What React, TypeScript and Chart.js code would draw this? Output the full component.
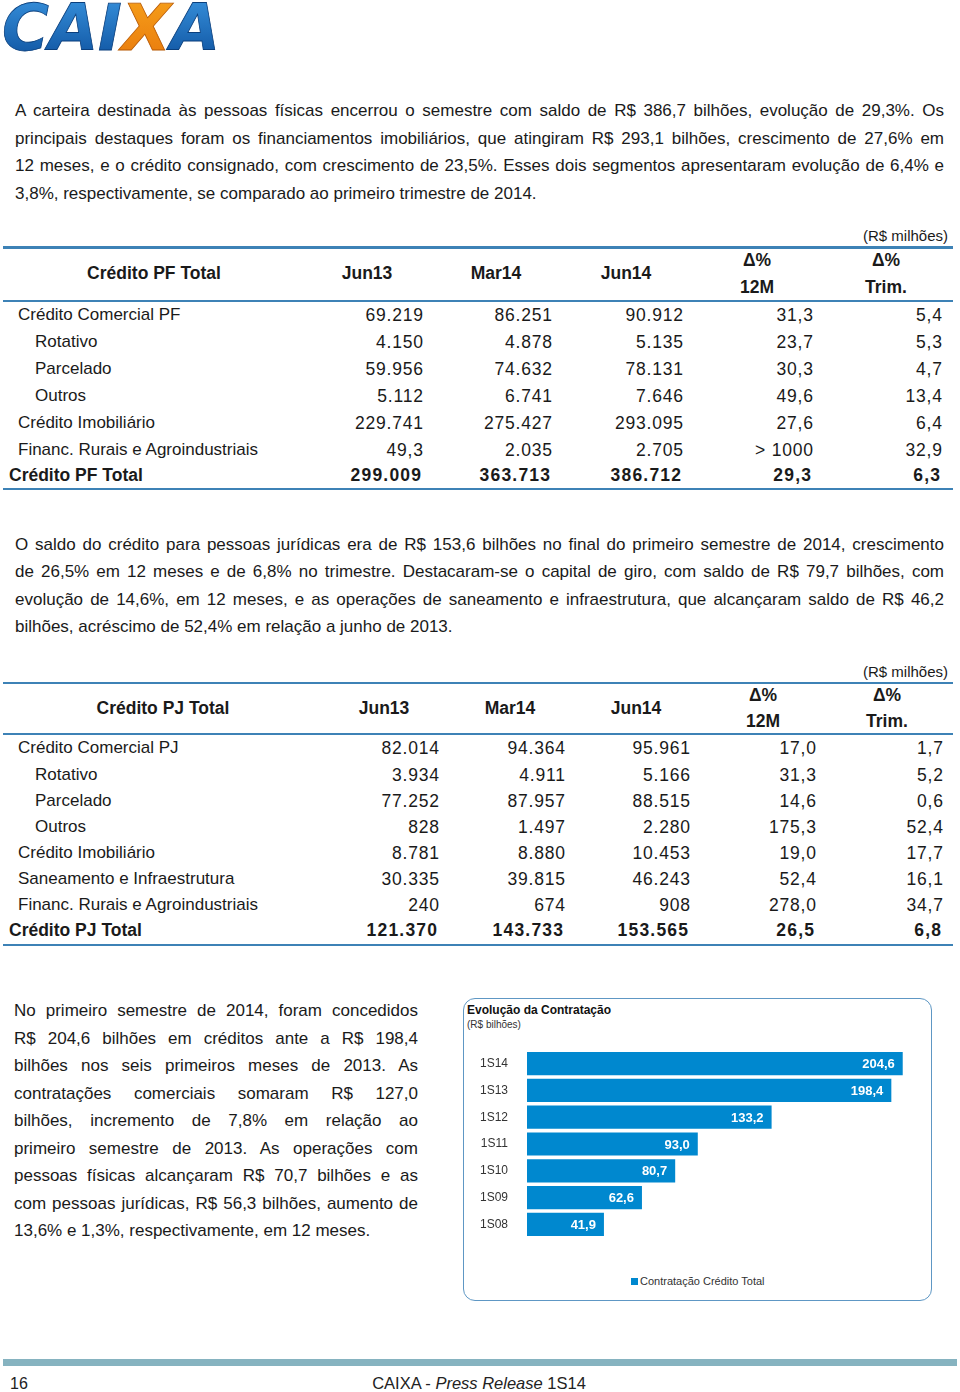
import React, { useEffect, useRef } from "react";
import { Chart, registerables } from "chart.js";

Chart.register(...registerables);

// ---------- chart data ----------
const periods = ["1S14", "1S13", "1S12", "1S11", "1S10", "1S09", "1S08"];
const contratacao = [204.6, 198.4, 133.2, 93.0, 80.7, 62.6, 41.9];
const seriesName = "Contratação Crédito Total";

// ---------- table data: PF ----------
const pfLabels = [
  "Crédito Comercial PF",
  "Rotativo",
  "Parcelado",
  "Outros",
  "Crédito Imobiliário",
  "Financ. Rurais e Agroindustriais",
  "Crédito PF Total",
];
const pfJun13 = ["69.219", "4.150", "59.956", "5.112", "229.741", "49,3", "299.009"];
const pfMar14 = ["86.251", "4.878", "74.632", "6.741", "275.427", "2.035", "363.713"];
const pfJun14 = ["90.912", "5.135", "78.131", "7.646", "293.095", "2.705", "386.712"];
const pf12M = ["31,3", "23,7", "30,3", "49,6", "27,6", "> 1000", "29,3"];
const pfTrim = ["5,4", "5,3", "4,7", "13,4", "6,4", "32,9", "6,3"];

// ---------- table data: PJ ----------
const pjLabels = [
  "Crédito Comercial PJ",
  "Rotativo",
  "Parcelado",
  "Outros",
  "Crédito Imobiliário",
  "Saneamento e Infraestrutura",
  "Financ. Rurais e Agroindustriais",
  "Crédito PJ Total",
];
const pjJun13 = ["82.014", "3.934", "77.252", "828", "8.781", "30.335", "240", "121.370"];
const pjMar14 = ["94.364", "4.911", "87.957", "1.497", "8.880", "39.815", "674", "143.733"];
const pjJun14 = ["95.961", "5.166", "88.515", "2.280", "10.453", "46.243", "908", "153.565"];
const pj12M = ["17,0", "31,3", "14,6", "175,3", "19,0", "52,4", "278,0", "26,5"];
const pjTrim = ["1,7", "5,2", "0,6", "52,4", "17,7", "16,1", "34,7", "6,8"];

// ---------- texts ----------
const para1 = [
  "A carteira destinada às pessoas físicas encerrou o semestre com saldo de R$ 386,7 bilhões, evolução de 29,3%. Os",
  "principais destaques foram os financiamentos imobiliários, que atingiram R$ 293,1 bilhões, crescimento de 27,6% em",
  "12 meses, e o crédito consignado, com crescimento de 23,5%. Esses dois segmentos apresentaram evolução de 6,4% e",
  "3,8%, respectivamente, se comparado ao primeiro trimestre de 2014.",
];
const para2 = [
  "O saldo do crédito para pessoas jurídicas era de R$ 153,6 bilhões no final do primeiro semestre de 2014, crescimento",
  "de 26,5% em 12 meses e de 6,8% no trimestre. Destacaram-se o capital de giro, com saldo de R$ 79,7 bilhões, com",
  "evolução de 14,6%, em 12 meses, e as operações de saneamento e infraestrutura, que alcançaram saldo de R$ 46,2",
  "bilhões, acréscimo de 52,4% em relação a junho de 2013.",
];
const para3 = [
  "No primeiro semestre de 2014, foram concedidos",
  "R$ 204,6 bilhões em créditos ante a R$ 198,4",
  "bilhões nos seis primeiros meses de 2013. As",
  "contratações comerciais somaram R$ 127,0",
  "bilhões, incremento de 7,8% em relação ao",
  "primeiro semestre de 2013. As operações com",
  "pessoas físicas alcançaram R$ 70,7 bilhões e as",
  "com pessoas jurídicas, R$ 56,3 bilhões, aumento de",
  "13,6% e 1,3%, respectivamente, em 12 meses.",
];

const FONT = '"Liberation Sans", Arial, sans-serif';
const TEXT = "#1a1a1a";
const LINE = "#3d82b6";
const BAR = "#0088cf";

type TP = {
  x: number;
  cy: number;
  size: number;
  bold?: boolean;
  align?: "left" | "right" | "center";
  color?: string;
  ls?: number;
  children: React.ReactNode;
};

function T({ x, cy, size, bold, align = "left", color = TEXT, ls = 0, children }: TP) {
  const lh = Math.round(size * 1.3);
  const base: React.CSSProperties = {
    position: "absolute",
    top: cy - lh / 2,
    lineHeight: lh + "px",
    fontSize: size,
    fontWeight: bold ? 700 : 400,
    color,
    whiteSpace: "nowrap",
    letterSpacing: ls ? ls + "px" : undefined,
    fontFamily: FONT,
  };
  if (align === "left") return <div style={{ ...base, left: x }}>{children}</div>;
  if (align === "right")
    return <div style={{ ...base, left: x - 400 + ls, width: 400, textAlign: "right" }}>{children}</div>;
  return <div style={{ ...base, left: x - 200, width: 400, textAlign: "center" }}>{children}</div>;
}

function Para({ lines, x, w, y0, step, size }: { lines: string[]; x: number; w: number; y0: number; step: number; size: number }) {
  const lh = Math.round(size * 1.3);
  return (
    <>
      {lines.map((l, i) => {
        const last = i === lines.length - 1;
        return (
          <div
            key={i}
            style={{
              position: "absolute",
              left: x,
              width: w,
              top: y0 + i * step - lh / 2,
              lineHeight: lh + "px",
              fontSize: size,
              fontFamily: FONT,
              color: TEXT,
              textAlign: last ? "left" : "justify",
              textAlignLast: last ? "left" : "justify",
            } as React.CSSProperties}
          >
            {l}
          </div>
        );
      })}
    </>
  );
}

function HLine({ y }: { y: number }) {
  return <div style={{ position: "absolute", left: 3, width: 950, top: y - 1.25, height: 2.5, background: LINE }} />;
}

type TableSpec = {
  title: string;
  labels: string[];
  cols: string[][];
  indent: number[];
  rowY: number[];
  colRight: number[];
  headCenters: number[];
  titleCenter: number;
  unitY: number;
  lines: number[];
  headY: [number, number, number];
};

function DataTable(s: TableSpec) {
  const heads = ["Jun13", "Mar14", "Jun14"];
  const n = s.labels.length;
  return (
    <>
      <T x={948} cy={s.unitY} size={15} align="right">(R$ milhões)</T>
      {s.lines.map((y, i) => (
        <HLine key={i} y={y} />
      ))}
      <T x={s.titleCenter} cy={s.headY[1]} size={17.5} bold align="center">{s.title}</T>
      {heads.map((h, i) => (
        <T key={h} x={s.headCenters[i]} cy={s.headY[1]} size={17.5} bold align="center">{h}</T>
      ))}
      <T x={s.headCenters[3]} cy={s.headY[0]} size={17.5} bold align="center">Δ%</T>
      <T x={s.headCenters[3]} cy={s.headY[2]} size={17.5} bold align="center">12M</T>
      <T x={s.headCenters[4]} cy={s.headY[0]} size={17.5} bold align="center">Δ%</T>
      <T x={s.headCenters[4]} cy={s.headY[2]} size={17.5} bold align="center">Trim.</T>
      {s.labels.map((lab, r) => {
        const total = r === n - 1;
        const lx = s.indent[r] === 2 ? 9 : s.indent[r] === 1 ? 35 : 18;
        return (
          <React.Fragment key={r}>
            <T x={lx} cy={s.rowY[r]} size={total ? 17.5 : 17} bold={total}>{lab}</T>
            {s.cols.map((col, c) => (
              <T key={c} x={s.colRight[c] - (total ? 2 : 0)} cy={s.rowY[r]} size={17.5} bold={total} align="right" ls={total ? 1.2 : 0.8}>
                {col[r]}
              </T>
            ))}
          </React.Fragment>
        );
      })}
    </>
  );
}

function Logo() {
  return (
    <svg
      width={232}
      height={56}
      viewBox="0 0 232 56"
      style={{ position: "absolute", left: 0, top: 0, overflow: "visible" }}
    >
      <defs>
        <linearGradient id="blueG" x1="0" y1="0" x2="0" y2="1">
          <stop offset="0" stopColor="#3a95e0" />
          <stop offset="1" stopColor="#0c4f9c" />
        </linearGradient>
        <linearGradient id="orangeG" x1="0" y1="0" x2="0" y2="1">
          <stop offset="0" stopColor="#f7a21b" />
          <stop offset="1" stopColor="#e8780c" />
        </linearGradient>
      </defs>
      <text
        x={2}
        y={50}
        fontSize={64}
        fontFamily='"DejaVu Sans", sans-serif'
        fontWeight={700}
        fontStyle="italic"
        textLength={218}
        lengthAdjust="spacing"
        fill="url(#blueG)"
        stroke="#0a3f7d"
        strokeWidth={0.8}
      >
        CAI<tspan fill="url(#orangeG)" stroke="#b85a05">X</tspan>A
      </text>
    </svg>
  );
}

function BarChart() {
  const ref = useRef<HTMLCanvasElement>(null);
  useEffect(() => {
    if (!ref.current) return;
    const valueLabels = {
      id: "valueLabels",
      afterDatasetsDraw(chart: any) {
        const { ctx } = chart;
        const meta = chart.getDatasetMeta(0);
        ctx.save();
        ctx.font = 'bold 13px "Liberation Sans", Arial, sans-serif';
        ctx.fillStyle = "#ffffff";
        ctx.textAlign = "right";
        ctx.textBaseline = "middle";
        meta.data.forEach((bar: any, i: number) => {
          const v = chart.data.datasets[0].data[i] as number;
          ctx.fillText(v.toFixed(1).replace(".", ","), bar.x - 8, bar.y + 1);
        });
        ctx.restore();
      },
    };
    const chart = new Chart(ref.current, {
      type: "bar",
      data: {
        labels: periods,
        datasets: [
          {
            label: seriesName,
            data: contratacao,
            backgroundColor: BAR,
            borderWidth: 0,
            barPercentage: 0.866,
            categoryPercentage: 1,
          },
        ],
      },
      options: {
        indexAxis: "y",
        responsive: false,
        animation: false,
        layout: { padding: { top: 0, bottom: 0, left: 0, right: 2 } },
        plugins: { legend: { display: false }, tooltip: { enabled: false } },
        scales: {
          x: { display: false, min: 0, max: 220 },
          y: {
            grid: { display: false },
            border: { display: false },
            ticks: { color: "#333333", font: { size: 12, family: FONT }, padding: 11 },
            afterFit(scale: any) {
              scale.width = 64;
            },
          },
        },
      },
      plugins: [valueLabels],
    } as any);
    return () => chart.destroy();
  }, []);
  return (
    <canvas
      ref={ref}
      width={470}
      height={224}
      style={{ position: "absolute", left: 463, top: 1032, width: 470, height: 224 }}
    />
  );
}

export default function App() {
  return (
    <div
      style={{
        position: "absolute",
        left: 0,
        top: 0,
        width: 960,
        height: 1392,
        background: "#ffffff",
        overflow: "hidden",
        fontFamily: FONT,
      }}
    >
      <Logo />

      <Para lines={para1} x={15} w={929} y0={111} step={27.6} size={17} />

      <DataTable
        title="Crédito PF Total"
        labels={pfLabels}
        cols={[pfJun13, pfMar14, pfJun14, pf12M, pfTrim]}
        indent={[0, 1, 1, 1, 0, 0, 2]}
        rowY={[315, 342, 369, 396, 423, 450, 475]}
        colRight={[423, 552, 683, 813, 942]}
        headCenters={[367, 496, 626, 757, 886]}
        titleCenter={154}
        unitY={236}
        lines={[247.5, 301, 489]}
        headY={[260, 273, 287]}
      />

      <Para lines={para2} x={15} w={929} y0={545} step={27.4} size={17} />

      <DataTable
        title="Crédito PJ Total"
        labels={pjLabels}
        cols={[pjJun13, pjMar14, pjJun14, pj12M, pjTrim]}
        indent={[0, 1, 1, 1, 0, 0, 0, 2]}
        rowY={[748, 775, 801, 827, 853, 879, 905, 930]}
        colRight={[439, 565, 690, 816, 943]}
        headCenters={[384, 510, 636, 763, 887]}
        titleCenter={163}
        unitY={672}
        lines={[683, 734, 945]}
        headY={[695, 708, 721]}
      />

      <Para lines={para3} x={14} w={404} y0={1011} step={27.5} size={17} />

      {/* chart box */}
      <div
        style={{
          position: "absolute",
          left: 462.5,
          top: 998,
          width: 469.5,
          height: 303,
          boxSizing: "border-box",
          border: "1.5px solid #5e97c4",
          borderRadius: 12,
        }}
      />
      <T x={467} cy={1010} size={12} bold color="#111111">Evolução da Contratação</T>
      <T x={467} cy={1024} size={10} color="#333333">(R$ bilhões)</T>
      <BarChart />
      <div style={{ position: "absolute", left: 630.5, top: 1277.5, width: 7, height: 7, background: BAR }} />
      <T x={640} cy={1280.5} size={11} color="#333333">{seriesName}</T>

      {/* footer */}
      <div style={{ position: "absolute", left: 3, width: 954, top: 1359, height: 7, background: "#86b3c0" }} />
      <T x={10} cy={1383} size={16} color="#222222">16</T>
      <div
        style={{
          position: "absolute",
          left: 279,
          width: 400,
          textAlign: "center",
          top: 1383 - 11,
          lineHeight: "22px",
          fontSize: 16.5,
          fontFamily: FONT,
          color: "#222222",
          whiteSpace: "nowrap",
        }}
      >
        CAIXA - <i>Press Release</i> 1S14
      </div>
    </div>
  );
}
